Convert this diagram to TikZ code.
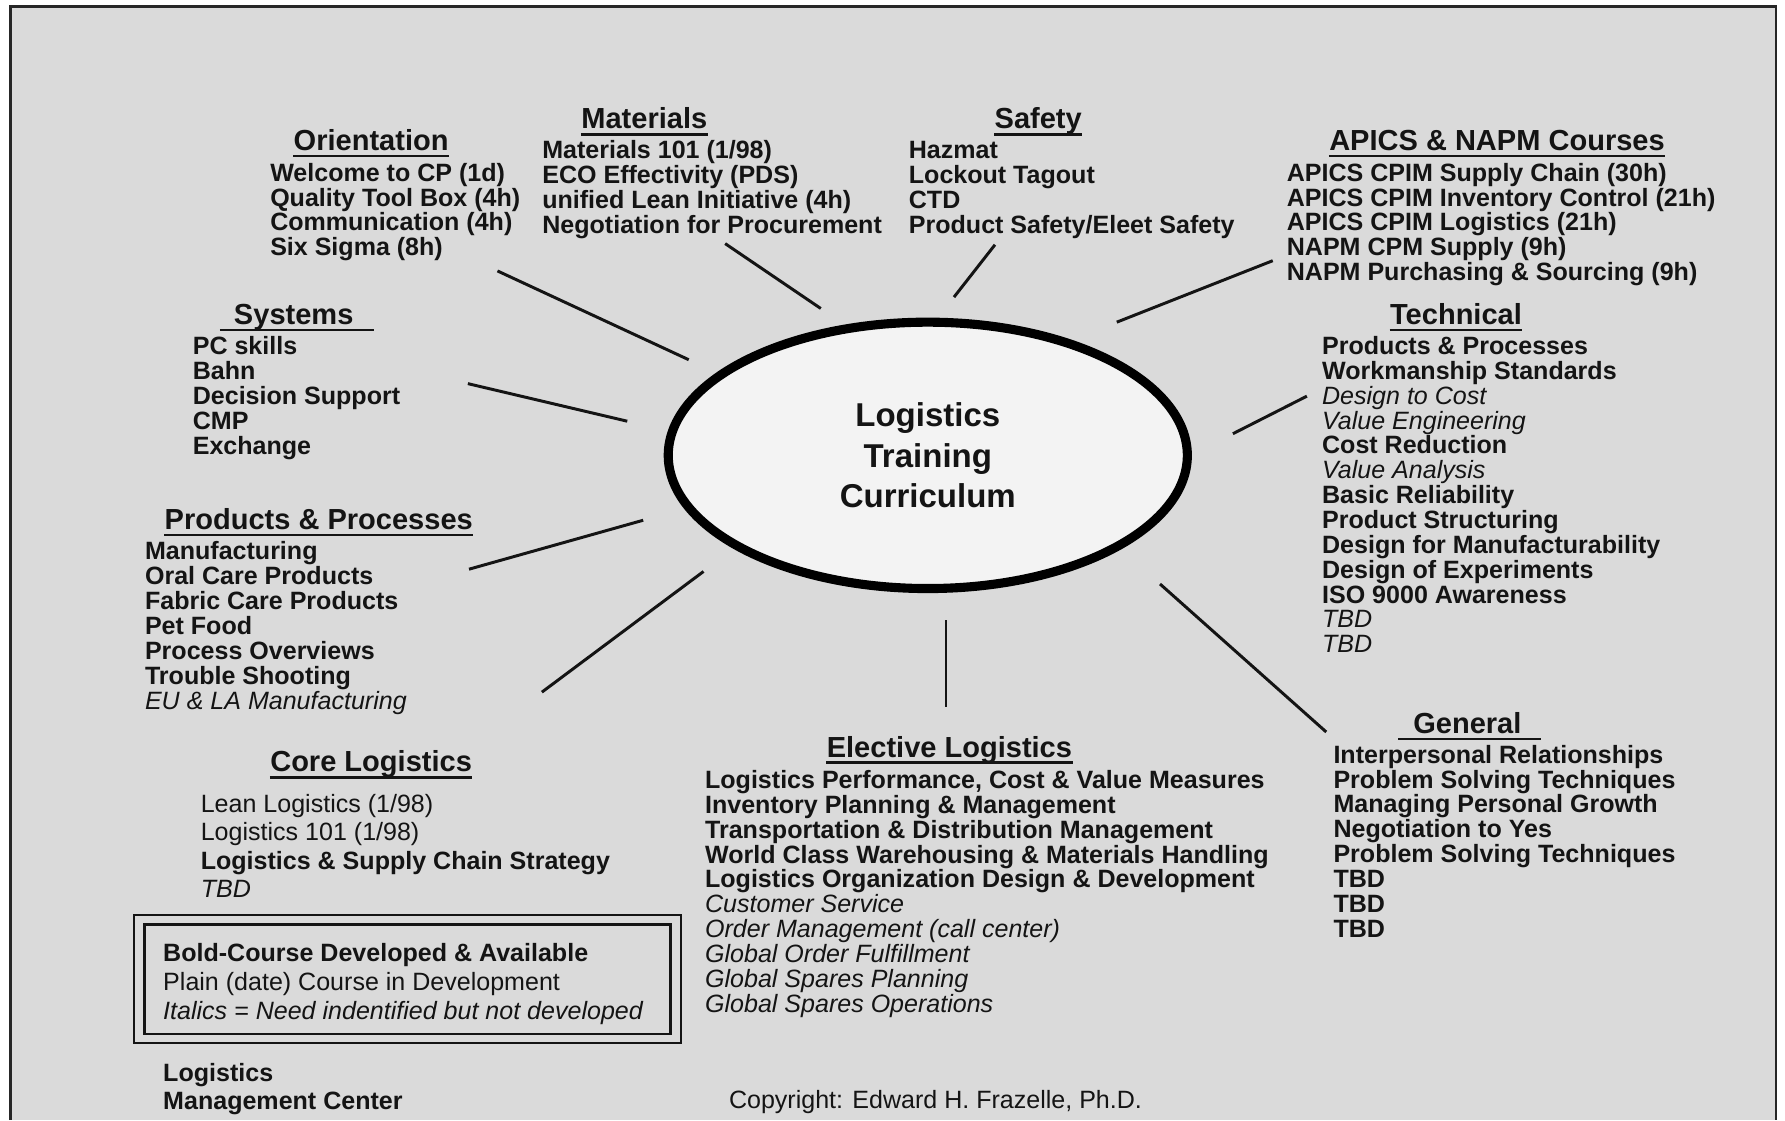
\documentclass[tikz,border=0pt]{standalone}
\usepackage{fontspec}
\setmainfont{Liberation Sans}
\usetikzlibrary{shapes.geometric}
\definecolor{bg}{HTML}{DADADA}
\definecolor{ellfill}{HTML}{F3F3F3}
\definecolor{ink}{HTML}{141414}
\newcommand\fst{\rule{0pt}{9pt}}
\newcommand\itl[1]{{\mdseries\itshape #1}}
\newcommand\pln[1]{{\mdseries #1}}
\begin{document}
\begin{tikzpicture}[x=0.5pt,y=-0.5pt,
  body/.style={anchor=north west, inner sep=0pt, align=left, text=ink,
    font={\fontsize{11}{#1}\selectfont\bfseries\lineskiplimit=-20pt}},
  hdr/.style={anchor=base, inner sep=0pt, text=ink,
    font=\fontsize{12.75}{14}\selectfont\bfseries},
  spoke/.style={line width=1.3pt, draw=ink},
  uline/.style={line width=1.1pt, draw=ink},
  frame/.style={line width=1.2pt, draw=black!85}]
\useasboundingbox (0,0) rectangle (1568,984);
% background frame
\fill[bg] (9,6) rectangle (1560,984);
\draw[frame] (9,984) -- (9,6) -- (1560,6) -- (1560,984);

% central ellipse
\node[ellipse, draw=black, line width=4pt, fill=ellfill, minimum width=228pt,
  minimum height=117pt, inner sep=0pt, align=center, text=ink,
  font=\fontsize{14.5}{17.75}\selectfont\bfseries] (ctr) at (815,400)
  {Logistics\\Training\\Curriculum};

% headers
\node[hdr] (hOri) at (326,132) {Orientation};
\node[hdr] (hMat) at (566,113) {Materials};
\node[hdr] (hSaf) at (912,113) {Safety};
\node[hdr] (hApi) at (1315,132) {APICS \& NAPM Courses};
\node[hdr] (hSys) at (258,285) {Systems};
\node[hdr] (hTec) at (1279,285) {Technical};
\node[hdr] (hPro) at (280,465) {Products \& Processes};
\node[hdr] (hCor) at (326,678) {Core Logistics};
\node[hdr] (hEle) at (834,665) {Elective Logistics};
\node[hdr] (hGen) at (1289,644) {General};
\foreach \h in {hOri,hMat,hSaf,hApi,hTec,hPro,hCor,hEle}
  \draw[uline] ([yshift=-2.5pt]\h.base west) -- ([yshift=-2.5pt]\h.base east);
\draw[uline] ([xshift=-6pt,yshift=-2.5pt]hSys.base west) -- ([xshift=9pt,yshift=-2.5pt]hSys.base east);
\draw[uline] ([xshift=-6.5pt,yshift=-2.5pt]hGen.base west) -- ([xshift=8.5pt,yshift=-2.5pt]hGen.base east);

% blocks
\node[body=10.85] (bOri) at (237,141) {\fst Welcome to CP (1d)\\Quality Tool Box (4h)\\Communication (4h)\\Six Sigma (8h)};
\node[body=11] (bMat) at (476,121) {\fst Materials 101 (1/98)\\ECO Effectivity (PDS)\\unified Lean Initiative (4h)\\Negotiation for Procurement};
\node[body=11] (bSaf) at (798,121) {\fst Hazmat\\Lockout Tagout\\CTD\\Product Safety/Eleet Safety};
\node[body=10.85] (bApi) at (1130,141) {\fst APICS CPIM Supply Chain (30h)\\APICS CPIM Inventory Control (21h)\\APICS CPIM Logistics (21h)\\NAPM CPM Supply (9h)\\NAPM Purchasing \& Sourcing (9h)};
\node[body=11] (bSys) at (169,293) {\fst PC skills\\Bahn\\Decision Support\\CMP\\Exchange};
\node[body=10.92] (bTec) at (1161,293) {\fst Products \& Processes\\Workmanship Standards\\\itl{Design to Cost}\\\itl{Value Engineering}\\Cost Reduction\\\itl{Value Analysis}\\Basic Reliability\\Product Structuring\\Design for Manufacturability\\Design of Experiments\\ISO 9000 Awareness\\\itl{TBD}\\\itl{TBD}};
\node[body=11] (bPro) at (127,473) {\fst Manufacturing\\Oral Care Products\\Fabric Care Products\\Pet Food\\Process Overviews\\Trouble Shooting\\\itl{EU \& LA Manufacturing}};
\node[body=12.5] (bCor) at (176,695) {\fst\pln{Lean Logistics (1/98)}\\\pln{Logistics 101 (1/98)}\\Logistics \& Supply Chain Strategy\\\itl{TBD}};
\node[body=10.95] (bEle) at (619,674) {\fst Logistics Performance, Cost \& Value Measures\\Inventory Planning \& Management\\Transportation \& Distribution Management\\World Class Warehousing \& Materials Handling\\Logistics Organization Design \& Development\\\itl{Customer Service}\\\itl{Order Management (call center)}\\\itl{Global Order Fulfillment}\\\itl{Global Spares Planning}\\\itl{Global Spares Operations}};
\node[body=10.93] (bGen) at (1171,652) {\fst Interpersonal Relationships\\Problem Solving Techniques\\Managing Personal Growth\\Negotiation to Yes\\Problem Solving Techniques\\TBD\\TBD\\TBD};

% legend
\draw[line width=1pt, draw=ink] (118,804) rectangle (598,916);
\draw[line width=1pt, draw=ink] (127,812) rectangle (589,908);
\node[body=12.75] (leg) at (143,826) {\fst Bold-Course Developed \& Available\\\pln{Plain (date) Course in Development}\\\itl{Italics = Need indentified but not developed}};
\node[body=12] (lmc) at (143,932) {\fst Logistics\\Management Center};
\node[anchor=base west, inner sep=0pt, text=ink, font=\fontsize{11}{12}\selectfont] (copy) at (640,974) {Copyright: Edward H. Frazelle, Ph.D.};

% spokes
\coordinate (s1a) at (437,238); \coordinate (s1b) at (605,316);
\coordinate (s2a) at (637,214); \coordinate (s2b) at (721,271);
\coordinate (s3a) at (874,215); \coordinate (s3b) at (838,261);
\coordinate (s4a) at (1118,229); \coordinate (s4b) at (981,283);
\coordinate (s5a) at (411,337); \coordinate (s5b) at (551,370);
\coordinate (s6a) at (1148,348); \coordinate (s6b) at (1083,381);
\coordinate (s7a) at (412,500); \coordinate (s7b) at (565,457);
\coordinate (s8a) at (476,608); \coordinate (s8b) at (618,502);
\coordinate (s9a) at (831,545); \coordinate (s9b) at (831,621);
\coordinate (s10a) at (1019,513); \coordinate (s10b) at (1165,643);
\foreach \i in {1,...,10} \draw[spoke] (s\i a) -- (s\i b);
\end{tikzpicture}
\end{document}
